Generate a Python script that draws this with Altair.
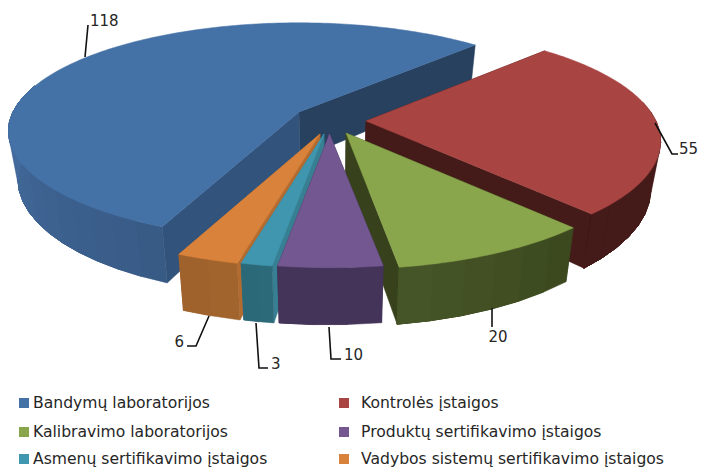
import math
import altair as alt
import pandas as pd

# ---- chart values ----
labels = ["Bandymų laboratorijos", "Kontrolės įstaigos", "Kalibravimo laboratorijos",
          "Produktų sertifikavimo įstaigos", "Asmenų sertifikavimo įstaigos",
          "Vadybos sistemų sertifikavimo įstaigos"]
values = [118, 55, 20, 10, 3, 6]
top_colors = ["#4471a6", "#a84442", "#8aa64d", "#735790", "#4096ae", "#d9823b"]
wall_near = ["#32537b", "#451b19", "#4a5a2b", "#45345a", "#2d6a7a", "#a9682f"]
wall_far = ["#456d9f", "#451b19", "#2a3410", "#3c2d4e", "#285f6e", "#7f5024"]
cut_a = ["#27415f", "#451b19", "#37421c", "#3c2d4e", "#377f92", "#b36b30"]
cut_b = ["#32537b", "#451b19", "#37421c", "#3c2d4e", "#377f92", "#b36b30"]

# ---- projection of the tilted, exploded pie (view geometry) ----
first_angle = 44 - 118 / 212 * 360 + 360   # clockwise from 12 o'clock
apex = [(299, 112), (366, 121), (346, 133), (329.5, 134), (324, 134), (320, 134)]
radius_x = [286, 290, 292, 295, 295, 295]
radius_y = [105, 110, 112, 110, 110, 110]
persp = 0.177
depth = 47
vanish_x = 330
lean = 0.03
paint_order = [0, 1, 2, 5, 4, 3]


def rim(i, deg):
    t = math.radians(deg)
    u, v = math.sin(t), -math.cos(t)
    s = 1 / (1 - persp * v)
    return apex[i][0] + radius_x[i] * u * s, apex[i][1] + radius_y[i] * v * s, s


def drop(x, y, s):
    return x + (vanish_x - x) * lean, y + depth * s


def mix(a, b, f):
    pa = [int(a[k:k + 2], 16) for k in (1, 3, 5)]
    pb = [int(b[k:k + 2], 16) for k in (1, 3, 5)]
    return "#" + "".join(f"{round(p + (q - p) * f):02x}" for p, q in zip(pa, pb))


rows = []
poly = 0


def add(points, color):
    global poly
    poly += 1
    for n, (x, y) in enumerate(points + points[:1]):
        rows.append(dict(poly=poly, n=n, x=x, y=y, fill=color))


total = sum(values)
spans = []
a = first_angle
for val in values:
    spans.append((a, a + val / total * 360))
    a += val / total * 360

for i in paint_order:
    a0, a1 = spans[i]
    ax, ay = apex[i]
    bx, by = drop(ax, ay, 1)
    # cut faces
    for deg, col in ((a1, cut_a[i]), (a0, cut_b[i])):
        x, y, s = rim(i, deg)
        xb, yb = drop(x, y, s)
        add([(ax, ay), (x, y), (xb, yb), (bx, by)], col)
    # outer wall, front part only: each band runs on to the wall's end and the next overpaints it
    w0, w1 = a0, a1
    if i == 0:
        w1 = 285
    if i == 1:
        w0 = 360 + 80 if a0 > 360 else 80
    if w1 > w0:
        steps = max(2, int((w1 - w0) / 5))
        for k in range(steps):
            d0 = w0 + (w1 - w0) * k / steps
            f = min(1, abs((d0 + (w1 - w0) / steps / 2) % 360 - 180) / 90)
            upper, lower = [], []
            for j in range(k, steps + 1):
                x, y, s = rim(i, w0 + (w1 - w0) * j / steps)
                upper.append((x, y))
                lower.append(drop(x, y, s))
            add(upper + lower[::-1], mix(wall_near[i], wall_far[i], f))
    # top face
    pts = [(ax, ay)]
    steps = max(6, int((a1 - a0)))
    for k in range(steps + 1):
        x, y, _ = rim(i, a0 + (a1 - a0) * k / steps)
        pts.append((x, y))
    add(pts, top_colors[i])

W, H = 691, 460
xs = alt.Scale(domain=[8, 8 + W], range=[0, W])
ys = alt.Scale(domain=[8, 8 + H], range=[0, H])
X = lambda f="x": alt.X(f"{f}:Q", scale=xs, axis=None)
Y = lambda f="y": alt.Y(f"{f}:Q", scale=ys, axis=None)

pie = alt.Chart(pd.DataFrame(rows)).mark_line(strokeWidth=0.5, strokeJoin="round", interpolate="linear").encode(
    x=X(), y=Y(), order="n:Q", detail="poly:N",
    fill=alt.Fill("fill:N", scale=None), stroke=alt.Stroke("fill:N", scale=None))

# ---- leaders and data labels ----
leaders = [[(85, 57), (88, 25)],
           [(655, 123), (672, 154), (678, 154)],
           [(492, 308), (492, 327)],
           [(329, 327), (331, 359), (341, 359)],
           [(256, 323), (259, 368), (268, 368)],
           [(209, 316), (196, 346), (187, 346)]]
label_pos = [(90, 21, "left"), (679, 149, "left"), (498, 337, "center"),
             (344, 355, "left"), (271, 364, "left"), (184, 342, "right")]
lead_rows = [dict(id=i, n=n, x=p[0], y=p[1]) for i, l in enumerate(leaders) for n, p in enumerate(l)]
lead = alt.Chart(pd.DataFrame(lead_rows)).mark_line(color="#111111", strokeWidth=1.6).encode(
    x=X(), y=Y(), order="n:Q", detail="id:N")

FONT = "DejaVu Sans"
val_layers = []
for al in ("left", "center", "right"):
    d = [dict(x=p[0], y=p[1], t=str(v)) for v, p in zip(values, label_pos) if p[2] == al]
    val_layers.append(alt.Chart(pd.DataFrame(d)).mark_text(
        align=al, baseline="middle", font=FONT, fontSize=15, color="#262626").encode(
        x=X(), y=Y(), text="t:N"))

# ---- legend ----
leg_x = [24, 344]
leg_y = [403, 432, 459]
leg = pd.DataFrame([dict(x=leg_x[i % 2], y=leg_y[i // 2], tx=leg_x[i % 2] + 9 + (8 if i % 2 else 0),
                         t=labels[i], c=top_colors[i]) for i in range(6)])
squares = alt.Chart(leg).mark_square(size=100, opacity=1).encode(
    x=X(), y=Y(), fill=alt.Fill("c:N", scale=None))
texts = alt.Chart(leg).mark_text(align="left", baseline="middle", font=FONT, fontSize=15.6,
                                 color="#262626").encode(x=X("tx"), y=Y(), text="t:N")

chart = alt.layer(pie, lead, *val_layers, squares, texts).properties(
    width=W, height=H, padding=0, autosize=alt.AutoSizeParams(type="none"),
    background="white").configure_view(stroke=None)
chart.save("out.html", embed_options={"renderer": "svg", "actions": False})
